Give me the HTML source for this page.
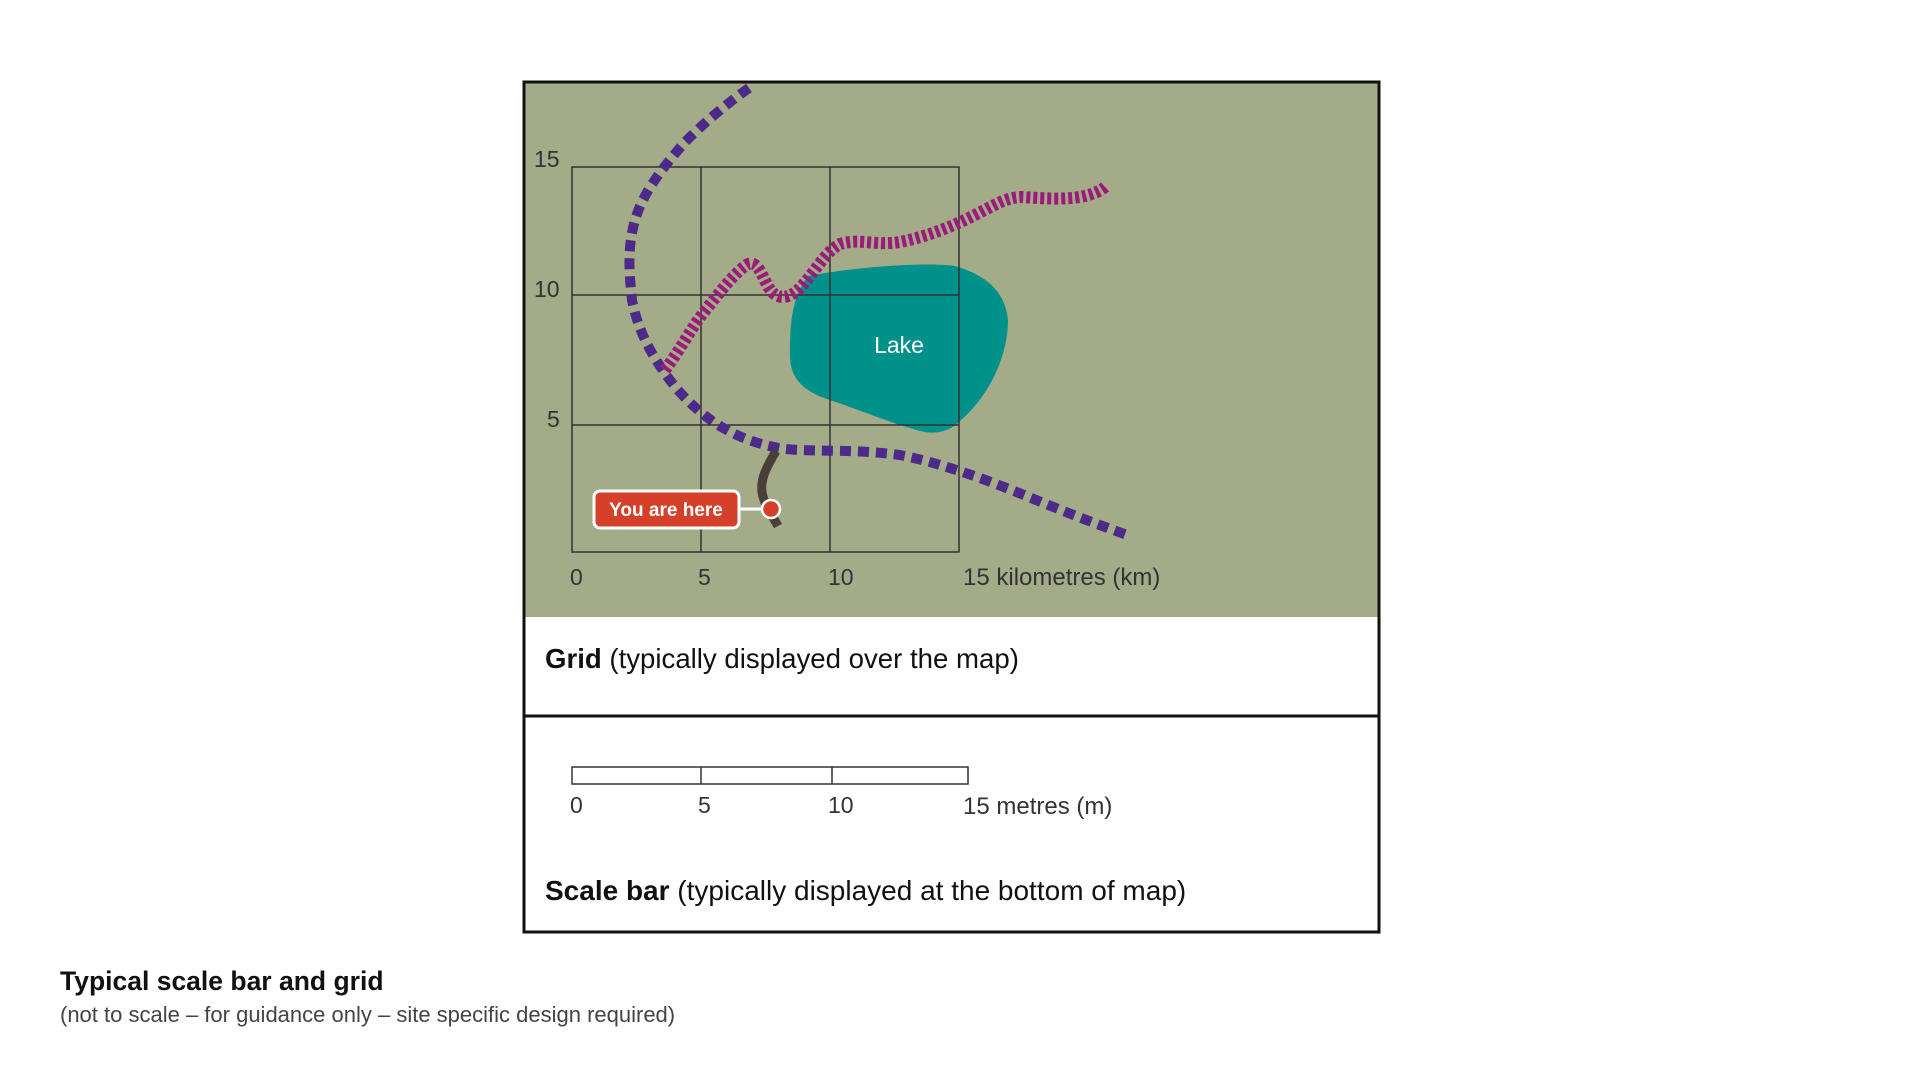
<!DOCTYPE html>
<html><head><meta charset="utf-8"><style>
html,body{margin:0;padding:0;background:#fff;}
svg{display:block;font-family:"Liberation Sans",Arial,sans-serif;}
</style></head><body>
<svg width="1920" height="1080" viewBox="0 0 1920 1080" xmlns="http://www.w3.org/2000/svg">
<rect x="0" y="0" width="1920" height="1080" fill="#fff"/>
<rect x="524" y="83" width="854" height="534" fill="#a3ab88"/>
<path d="M808,276 C860,266 930,262 955,266 C985,275 1005,290 1008,320 C1008,355 990,395 961,420 C950,432 935,434 925,432 C895,425 860,410 830,400 C805,392 790,380 790,355 C790,330 790,300 808,276 Z" fill="#00918a"/>
<text x="899" y="353" fill="#fff" font-size="23" text-anchor="middle">Lake</text>
<g stroke="#333" stroke-width="1.5" fill="none">
<rect x="572" y="167" width="387" height="385"/>
<line x1="701" y1="167" x2="701" y2="552"/>
<line x1="830" y1="167" x2="830" y2="552"/>
<line x1="572" y1="295" x2="959" y2="295"/>
<line x1="572" y1="425" x2="959" y2="425"/>
</g>
<g fill="#333" font-size="23">
<text x="534" y="167">15</text>
<text x="534" y="297">10</text>
<text x="547" y="427">5</text>
<text x="570" y="585">0</text>
<text x="698" y="585">5</text>
<text x="828" y="585">10</text>
<text x="963" y="585" font-size="24">15 kilometres (km)</text>
</g>
<path d="M749,88 C725,105 705,122 685,142 C665,165 645,190 637,214 C628,240 628,265 632,300 C638,330 650,355 676,388 C700,415 730,440 784,449 C820,452 857,449 900,455 C950,465 1000,485 1041,502 C1080,518 1100,525 1127,535" fill="none" stroke="#4b2a8a" stroke-width="10" stroke-dasharray="11 7"/>
<path d="M665,370 C680,350 690,330 704,312 C720,292 735,272 748,264 C760,260 763,282 772,292 C780,300 790,298 800,288 C815,272 825,252 840,244 C860,238 875,246 900,242 C930,236 955,225 975,215 C995,205 1005,198 1020,197 C1040,198 1060,200 1080,197 C1095,194 1102,190 1106,186" fill="none" stroke="#9b1a7a" stroke-width="12" stroke-dasharray="4 3"/>
<path d="M776,451 C768,465 760,478 762,492 C764,505 772,515 778,526" fill="none" stroke="#4a3f38" stroke-width="9"/>
<line x1="738" y1="509" x2="770" y2="509" stroke="#fff" stroke-width="3"/>
<circle cx="771" cy="509" r="9" fill="#d5402b" stroke="#fff" stroke-width="2.5"/>
<rect x="594" y="491" width="145" height="37" rx="6" fill="#d5402b" stroke="#fff" stroke-width="3"/>
<text x="666" y="516" fill="#fff" font-size="19" font-weight="bold" text-anchor="middle">You are here</text>
<rect x="524" y="82" width="855" height="850" fill="none" stroke="#111" stroke-width="3"/>
<line x1="524" y1="716" x2="1379" y2="716" stroke="#111" stroke-width="3"/>
<text x="545" y="668" fill="#111" font-size="27.6"><tspan font-weight="bold">Grid</tspan> (typically displayed over the map)</text>
<g stroke="#333" stroke-width="1.5" fill="#fff">
<rect x="572" y="767" width="396" height="17"/>
<line x1="701" y1="767" x2="701" y2="784"/>
<line x1="832" y1="767" x2="832" y2="784"/>
</g>
<g fill="#333" font-size="23">
<text x="570" y="813">0</text>
<text x="698" y="813">5</text>
<text x="828" y="813">10</text>
<text x="963" y="814" font-size="24">15 metres (m)</text>
</g>
<text x="545" y="900" fill="#111" font-size="28"><tspan font-weight="bold">Scale bar</tspan> (typically displayed at the bottom of map)</text>
<text x="60" y="990" fill="#111" font-size="26.5" font-weight="bold">Typical scale bar and grid</text>
<text x="60" y="1022" fill="#444" font-size="22">(not to scale – for guidance only – site specific design required)</text>
</svg>
</body></html>
